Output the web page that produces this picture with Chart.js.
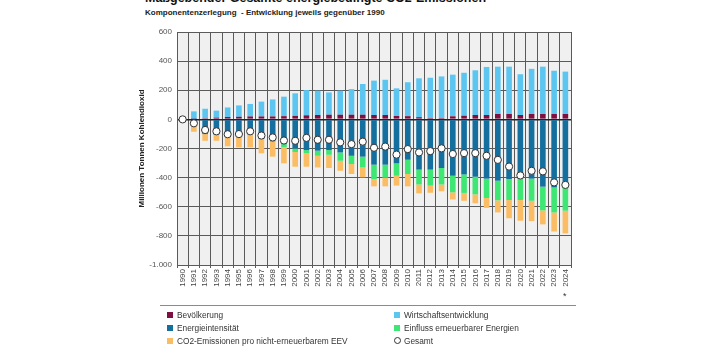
<!DOCTYPE html>
<html>
<head>
<meta charset="utf-8">
<script src="https://cdn.jsdelivr.net/npm/chart.js@4"></script>
<style>
  body { margin: 0; width: 707px; height: 354px; overflow: hidden; background: #fff; font-family: "Liberation Sans", Arial, sans-serif; position: relative; }
  #title { position: absolute; left: 145px; top: -9px; font-size: 12.5px; font-weight: bold; color: #111; white-space: nowrap; }
  #subtitle { position: absolute; left: 145px; top: 8px; font-size: 8px; font-weight: bold; color: #222; white-space: nowrap; }
  #wrap { position: absolute; left: 0; top: 0; width: 707px; height: 300px; }
  #star { position: absolute; left: 563px; top: 291px; font-size: 9px; color: #333; }
  #sep { position: absolute; left: 160px; top: 305px; width: 416px; height: 1px; background: #8a8a8a; }
  #legend { position: absolute; left: 167px; top: 310px; width: 420px; font-size: 8.3px; color: #333; }
  .item { position: absolute; white-space: nowrap; line-height: 10px; }
  .box { display: inline-block; width: 6px; height: 6px; margin-right: 4px; vertical-align: 0px; }
  .dot { display: inline-block; width: 5px; height: 5px; margin-right: 3px; border: 1px solid #333; border-radius: 50%; background: #fff; vertical-align: 0px; }
</style>
</head>
<body>
<div id="title">Maßgebender Gesamte energiebedingte CO2-Emissionen</div>
<div id="subtitle">Komponentenzerlegung&nbsp; - Entwicklung jeweils gegenüber 1990</div>
<div id="wrap"><canvas id="chart" width="707" height="300"></canvas></div>
<div id="star">*</div>
<div id="sep"></div>
<div id="legend"></div>
<script>
const years = ['1990','1991','1992','1993','1994','1995','1996','1997','1998','1999','2000','2001','2002','2003','2004','2005','2006','2007','2008','2009','2010','2011','2012','2013','2014','2015','2016','2017','2018','2019','2020','2021','2022','2023','2024']

const bevoelkerung = [0,3,8,12,16,18,20,20,20,22,24,28,30,32,32,32,32,30,30,23,22,15,9,9,21,25,30,30,37,37,30,37,37,37,37]
const wirtschaft = [0,52,65,48,66,78,86,102,117,134,155,173,167,153,165,176,211,236,242,190,233,267,277,286,286,295,307,330,325,325,280,310,325,297,291]
const energieintensitaet = [0,-40,-101,-105,-119,-112,-101,-135,-140,-170,-200,-211,-215,-211,-227,-250,-256,-311,-311,-302,-277,-345,-345,-334,-387,-378,-394,-407,-421,-410,-407,-407,-462,-467,-467]
const erneuerbare = [0,0,0,0,0,0,0,0,-15,-20,-24,-22,-35,-32,-57,-57,-74,-99,-89,-85,-98,-102,-110,-113,-114,-127,-121,-133,-135,-144,-147,-152,-163,-172,-160]
const co2ProEEV = [0,-45,-46,-42,-66,-80,-91,-98,-101,-112,-101,-92,-80,-91,-69,-68,-68,-50,-60,-68,-85,-61,-49,-47,-49,-54,-61,-68,-83,-125,-142,-140,-96,-131,-156]
const gesamt = [0,-27,-73,-82,-102,-101,-82,-111,-124,-145,-147,-127,-140,-140,-158,-170,-153,-195,-187,-242,-204,-227,-218,-199,-238,-232,-232,-250,-278,-324,-385,-353,-357,-433,-450]

const yTicks = [600,400,200,0,-200,-400,-600,-800,-1000]

const colors = {
  bev: '#7d1040',
  wirt: '#5cc6f0',
  ei: '#156f9e',
  ee: '#3ee673',
  co2: '#fbbd63'
}

const plotBg = {
  id: 'plotBg',
  beforeDraw(chart) {
    const a = chart.chartArea
    const ctx = chart.ctx
    ctx.save()
    ctx.fillStyle = '#f0f0f0'
    ctx.fillRect(a.left, a.top, a.right - a.left, a.bottom - a.top)
    ctx.restore()
  }
}

function fmt(v) {
  const s = Math.abs(v) >= 1000 ? Math.abs(v).toString().replace(/(\d)(\d{3})$/, '$1.$2') : Math.abs(v).toString()
  return v < 0 ? '-' + s : s
}

const barDefaults = { barPercentage: 0.5, categoryPercentage: 1, order: 1, stack: 'komp' }

const chart = new Chart(document.getElementById('chart'), {
  type: 'bar',
  data: {
    labels: years,
    datasets: [
      { ...barDefaults, label: 'Bevölkerung', data: bevoelkerung, backgroundColor: colors.bev },
      { ...barDefaults, label: 'Wirtschaftsentwicklung', data: wirtschaft, backgroundColor: colors.wirt },
      { ...barDefaults, label: 'Energieintensität', data: energieintensitaet, backgroundColor: colors.ei },
      { ...barDefaults, label: 'Einfluss erneuerbarer Energien', data: erneuerbare, backgroundColor: colors.ee },
      { ...barDefaults, label: 'CO2-Emissionen pro nicht-erneuerbarem EEV', data: co2ProEEV, backgroundColor: colors.co2 },
      { type: 'line', label: 'Gesamt', data: gesamt, stack: 'gesamt', order: 0, showLine: false,
        pointRadius: 3.6, pointBackgroundColor: '#fff', pointBorderColor: '#333', pointBorderWidth: 1 }
    ]
  },
  options: {
    responsive: false,
    animation: false,
    layout: { padding: { left: 137, right: 136, top: 32, bottom: 7 } },
    plugins: { legend: { display: false }, tooltip: { enabled: false } },
    scales: {
      x: {
        stacked: true,
        afterFit(scale) { scale.height = 28 },
        grid: { color: '#5a5a5a', lineWidth: 1, offset: true, tickLength: 3 },
        border: { color: '#5a5a5a' },
        ticks: { maxRotation: 90, minRotation: 90, autoSkip: false, padding: 1, color: '#444', font: { family: 'Liberation Sans', size: 8 } }
      },
      y: {
        stacked: true,
        min: -1000,
        max: 600,
        afterFit(scale) { scale.width = 40 },
        afterBuildTicks(scale) { scale.ticks = yTicks.map(v => ({ value: v })) },
        grid: {
          color: ctx => ctx.tick && ctx.tick.value === 0 ? '#222' : '#5a5a5a',
          lineWidth: ctx => ctx.tick && ctx.tick.value === 0 ? 1.5 : 1,
          drawTicks: false
        },
        border: { color: '#5a5a5a' },
        ticks: { padding: 5, color: '#555', font: { family: 'Liberation Sans', size: 8 }, callback: v => fmt(v) },
        title: { display: true, text: 'Millionen Tonnen Kohlendioxid', color: '#222', padding: { top: 0, bottom: 2 },
          font: { family: 'Liberation Sans', size: 8, weight: 'bold' } }
      }
    }
  },
  plugins: [plotBg]
})

// legend in two columns, built from the datasets
const slots = [[0, 0], [227, 0], [0, 13], [227, 13], [0, 26], [227, 26]]
const legend = document.getElementById('legend')
chart.data.datasets.forEach((ds, i) => {
  const el = document.createElement('div')
  el.className = 'item'
  el.style.left = slots[i][0] + 'px'
  el.style.top = slots[i][1] + 'px'
  const mark = document.createElement('span')
  if (ds.type === 'line') {
    mark.className = 'dot'
  } else {
    mark.className = 'box'
    mark.style.background = ds.backgroundColor
  }
  el.appendChild(mark)
  el.appendChild(document.createTextNode(ds.label))
  legend.appendChild(el)
})
</script>
</body>
</html>
